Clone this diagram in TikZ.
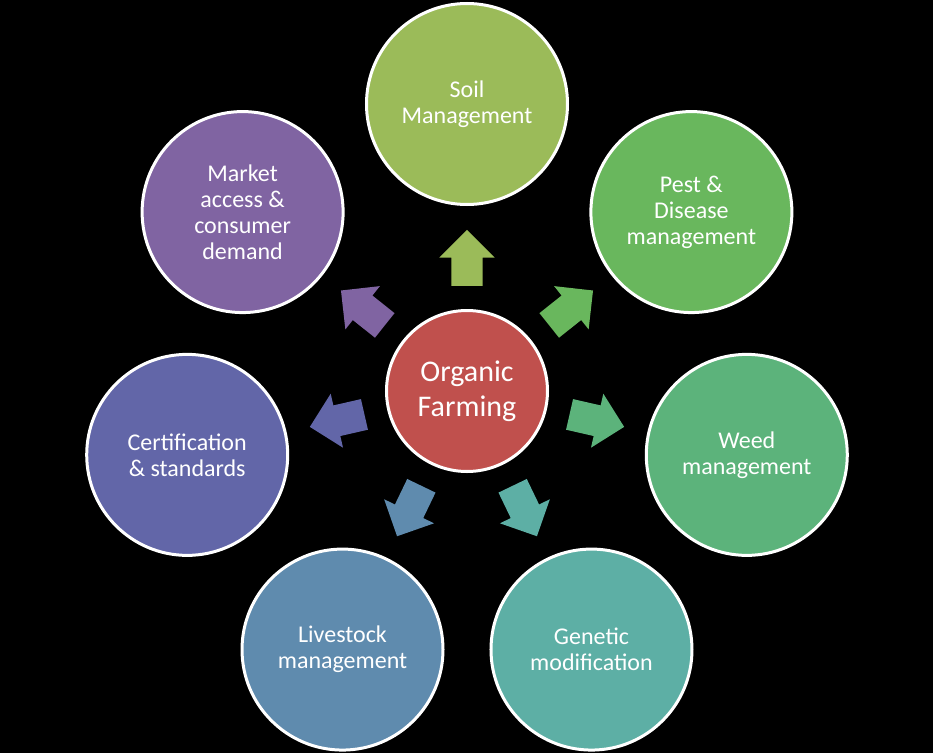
\documentclass[tikz,border=0pt]{standalone}
\usepackage{fontspec}
\setmainfont{Carlito}
\usetikzlibrary{shapes.arrows}
\definecolor{hubred}{HTML}{C0504D}
\definecolor{soilgreen}{HTML}{9BBB59}
\definecolor{pestgreen}{HTML}{69B75D}
\definecolor{weedgreen}{HTML}{5CB37B}
\definecolor{genteal}{HTML}{5DAFA5}
\definecolor{stockblue}{HTML}{5F8BAE}
\definecolor{certblue}{HTML}{6266A8}
\definecolor{marketpurple}{HTML}{8064A2}
\begin{document}
\begin{tikzpicture}[
    x=1pt, y=1pt,
    topic/.style={circle, draw=white, line width=3pt, minimum size=201pt, inner sep=0pt, align=center, text=white, font=\fontsize{24}{26}\selectfont},
    hub/.style={circle, draw=white, line width=3pt, minimum size=161pt, inner sep=0pt, fill=hubred, align=center, text=white, font=\fontsize{30}{35}\selectfont},
    blockarrow/.style={single arrow, minimum height=56pt, single arrow head extend=12pt, inner xsep=0pt, inner ysep=15.5pt, anchor=tail}
]
  % background
  \fill[black] (-467,-362) rectangle (466,391);
  \useasboundingbox (-467,-362) rectangle (466,391);
  % hub
  \node[hub] (farming) at (0,0) {Organic\\Farming};
  % topics with their arrows
  \foreach \n/\a/\c/\t in {
      soil/90/soilgreen/{Soil\\Management},
      pest/38.57/pestgreen/{Pest \&\\Disease\\management},
      weed/-12.86/weedgreen/{Weed\\management},
      genetic/-64.29/genteal/{Genetic\\modification},
      livestock/-115.71/stockblue/{Livestock\\management},
      cert/-167.14/certblue/{Certification\\\& standards},
      market/141.43/marketpurple/{Market\\access \&\\consumer\\demand}} {
    \node[topic, fill=\c] (\n) at (\a:287) {\t};
    \node[blockarrow, fill=\c, rotate=\a] (to\n) at (\a:105) {};
  }
\end{tikzpicture}
\end{document}
